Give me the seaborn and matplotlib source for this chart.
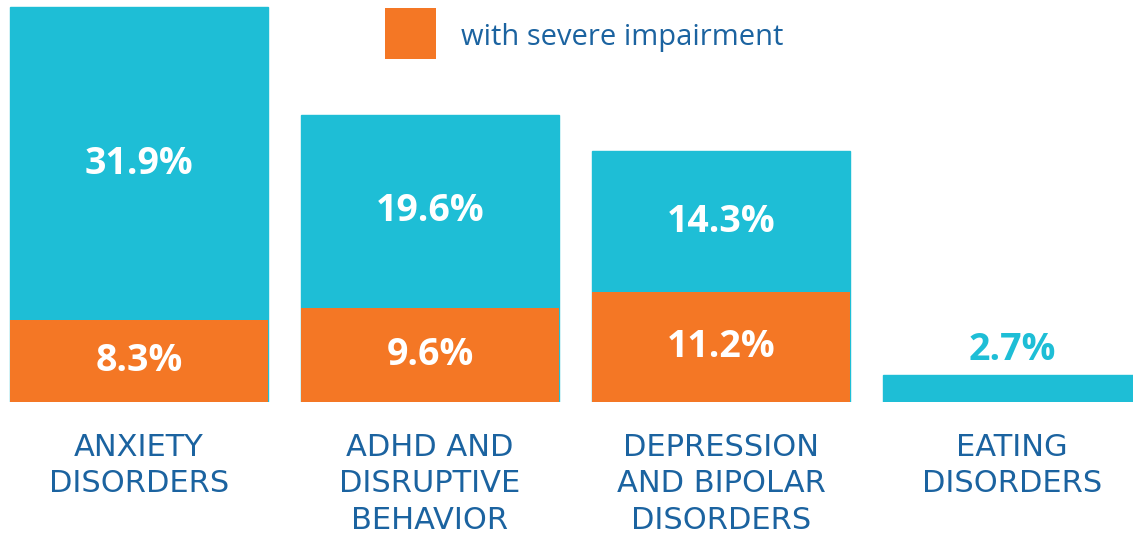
import matplotlib
matplotlib.use("Agg")
import matplotlib.pyplot as plt
import seaborn as sns
import pandas as pd
from matplotlib.patches import Rectangle

categories = ["ANXIETY\nDISORDERS", "ADHD AND\nDISRUPTIVE\nBEHAVIOR",
              "DEPRESSION\nAND BIPOLAR\nDISORDERS", "EATING\nDISORDERS"]
other_pct = [31.9, 19.6, 14.3, 2.7]
severe_pct = [8.3, 9.6, 11.2, 0.0]
legend_label = "with severe impairment"

TEAL = "#1ebed6"
ORANGE = "#f47725"
BLUE = "#1b63a0"

df = pd.DataFrame({"cat": categories, "other": other_pct, "severe": severe_pct})
df["total"] = df["other"] + df["severe"]

sns.set_theme(style="white")
plt.rcParams["font.family"] = ["DejaVu Sans"]

W, H = 1133, 537
fig = plt.figure(figsize=(W / 100, H / 100), dpi=100)
ax = fig.add_axes([0, 135 / H, 1, 402 / H])

sns.barplot(data=df, x="cat", y="total", color=TEAL, saturation=1, width=0.887,
            edgecolor=TEAL, linewidth=1, ax=ax)
sns.barplot(data=df, x="cat", y="severe", color=ORANGE, saturation=1, width=0.887,
            linewidth=0, ax=ax)

ax.set_xlim(-0.478, 3.416)
ax.set_ylim(0, 40.9)
for s in ax.spines.values():
    s.set_visible(False)
ax.set_yticks([])
ax.set_xlabel("")
ax.set_ylabel("")
ax.tick_params(axis="x", length=0, pad=22)
for lab in ax.get_xticklabels():
    lab.set_fontsize(22)
    lab.set_color(BLUE)
    lab.set_linespacing(1.34)
    lab.set_verticalalignment("top")

pfont = dict(family=["Open Sans", "DejaVu Sans"], fontweight="bold", fontsize=27)
for i, (o, s) in enumerate(zip(other_pct, severe_pct)):
    if s > 0:
        ax.text(i, s + o / 2, f"{o}%", ha="center", va="center", color="white", **pfont)
        ax.text(i, s / 2, f"{s}%", ha="center", va="center", color="white", **pfont)
    else:
        ax.text(i, o + 2.6, f"{o}%", ha="center", va="center", color=TEAL, **pfont)

# legend
fig.patches.append(Rectangle((385 / W, 1 - 59 / H), 51 / W, 51 / H,
                             transform=fig.transFigure, facecolor=ORANGE,
                             edgecolor="none"))
fig.text(461 / W, 1 - 45 / H, legend_label, ha="left", va="baseline",
         color=BLUE, fontsize=21, family=["Open Sans", "DejaVu Sans"])

fig.savefig("out.png", dpi=100)
